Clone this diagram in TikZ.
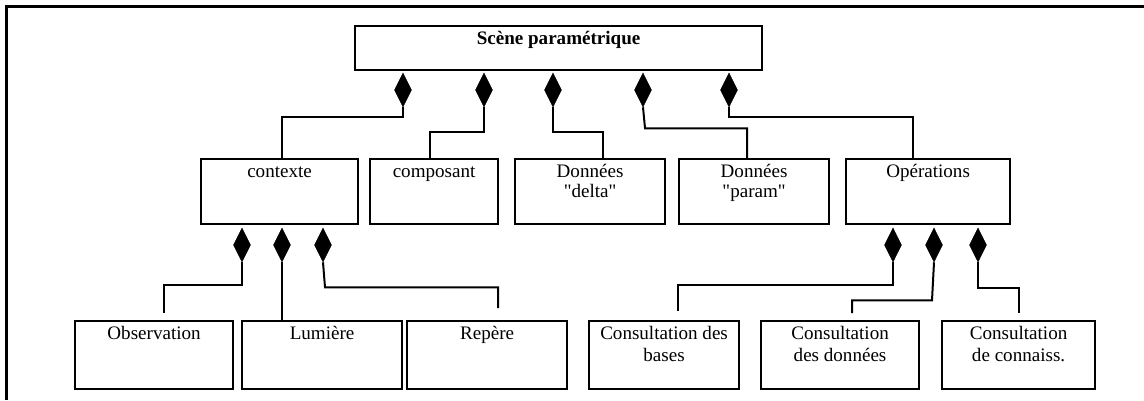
\documentclass[tikz,border=0pt]{standalone}
\usepackage{fontspec}
\setmainfont{Liberation Serif}[Ligatures=TeXOff]
\usetikzlibrary{shapes.geometric,calc}

% stacked lines whose baseline is the first line
\newcommand\stacked[1]{\begin{tabular}[t]{@{}c@{}}#1\end{tabular}}

% class box: name, x1, y1, x2, y2, label style, text
\newcommand\classbox[7]{%
  \node[umlbox,minimum width={(#4-#2)*0.75pt},minimum height={(#5-#3)*0.75pt}] (#1) at (#2,#3) {};
  \node[#6] (#1-t) at ($(#1.north)+(0,19)$) {\stacked{#7}};%
}

\begin{document}
\begin{tikzpicture}[x=0.75pt,y=-0.75pt,
  umlbox/.style={draw,line width=1.6pt,inner sep=0pt,anchor=north west},
  boxlabel/.style={anchor=base,inner sep=0pt,font=\fontsize{14.3}{15}\selectfont},
  lowlabel/.style={boxlabel,font=\fontsize{14.3}{16.5}\selectfont},
  compo/.style={diamond,fill=black,draw=black,line width=0.4pt,inner sep=0pt,
    minimum width=12.75pt,minimum height=25.5pt},
  conn/.style={line width=1.5pt,line join=miter}]

\useasboundingbox (0,0) rectangle (1144,400);

% frame
\draw[line width=2.2pt] (6.5,400) -- (6.5,6.5) -- (1144,6.5);

% classes
\classbox{sc}{354}{25}{761}{69}{boxlabel}{\textbf{Scène paramétrique}}
\classbox{ctx}{200}{158}{357}{223}{boxlabel}{contexte}
\classbox{comp}{369}{158}{497}{223}{boxlabel}{composant}
\classbox{dd}{514}{158}{664}{223}{boxlabel}{Données\\"delta"}
\classbox{dp}{678}{158}{828}{223}{boxlabel}{Données\\"param"}
\classbox{ops}{845}{158}{1009}{223}{boxlabel}{Opérations}
\classbox{obs}{74}{320}{232}{388}{lowlabel}{Observation}
\classbox{lum}{241}{320}{401}{388}{lowlabel}{Lumière}
\classbox{rep}{406}{320}{566}{388}{lowlabel}{Repère}
\classbox{cb}{588}{320}{738}{388}{lowlabel}{Consultation des\\bases}
\classbox{cd}{760}{320}{918}{388}{lowlabel}{Consultation\\des données}
\classbox{ck}{941}{320}{1094}{388}{lowlabel}{Consultation\\de connaiss.}

% composition diamonds
\node[compo] (t1) at (403,90) {};
\node[compo] (t2) at (484,90) {};
\node[compo] (t3) at (553,90) {};
\node[compo] (t4) at (643,90) {};
\node[compo] (t5) at (729,90) {};
\node[compo] (c1) at (242,245) {};
\node[compo] (c2) at (282,245) {};
\node[compo] (c3) at (323,245) {};
\node[compo] (o1) at (893,245) {};
\node[compo] (o2) at (934,245) {};
\node[compo] (o3) at (978,245) {};

% connector ends
\coordinate (ctx-in)  at ($(ctx.north west)+(82,0)$);
\coordinate (comp-in) at ($(comp.north west)+(61,0)$);
\coordinate (dd-in)   at ($(dd.north west)+(89,0)$);
\coordinate (dp-in)   at ($(dp.north west)+(69,0)$);
\coordinate (ops-in)  at ($(ops.north west)+(68,0)$);
\coordinate (obs-in)  at ($(obs.north west)+(90,-7)$);
\coordinate (lum-in)  at ($(lum.north west)+(41,0)$);
\coordinate (rep-in)  at ($(rep.north west)+(92,-12)$);
\coordinate (cb-in)   at ($(cb.north west)+(90,-9)$);
\coordinate (cd-in)   at ($(cd.north west)+(92,-7)$);
\coordinate (ck-in)   at ($(ck.north west)+(78,-7)$);

% connectors
\draw[conn] (t1.south) -- ++(0,10) -| (ctx-in);
\draw[conn] (t2.south) -- ++(0,25) -| (comp-in);
\draw[conn] (t3.south) -- ++(0,25) -| (dd-in);
\draw[conn] (t4.south) -- ++(2,21) -| (dp-in);
\draw[conn] (t5.south) -- ++(0,10) -| (ops-in);
\draw[conn] (c1.south) -- ++(0,23) -| (obs-in);
\draw[conn] (c2.south) -- (lum-in);
\draw[conn] (c3.south) -- ++(2,25) -| (rep-in);
\draw[conn] (o1.south) -- ++(0,23) -| (cb-in);
\draw[conn] (o2.south) -- ++(-2,38) -| (cd-in);
\draw[conn] (o3.south) -- ++(0,26) -| (ck-in);

\end{tikzpicture}
\end{document}
